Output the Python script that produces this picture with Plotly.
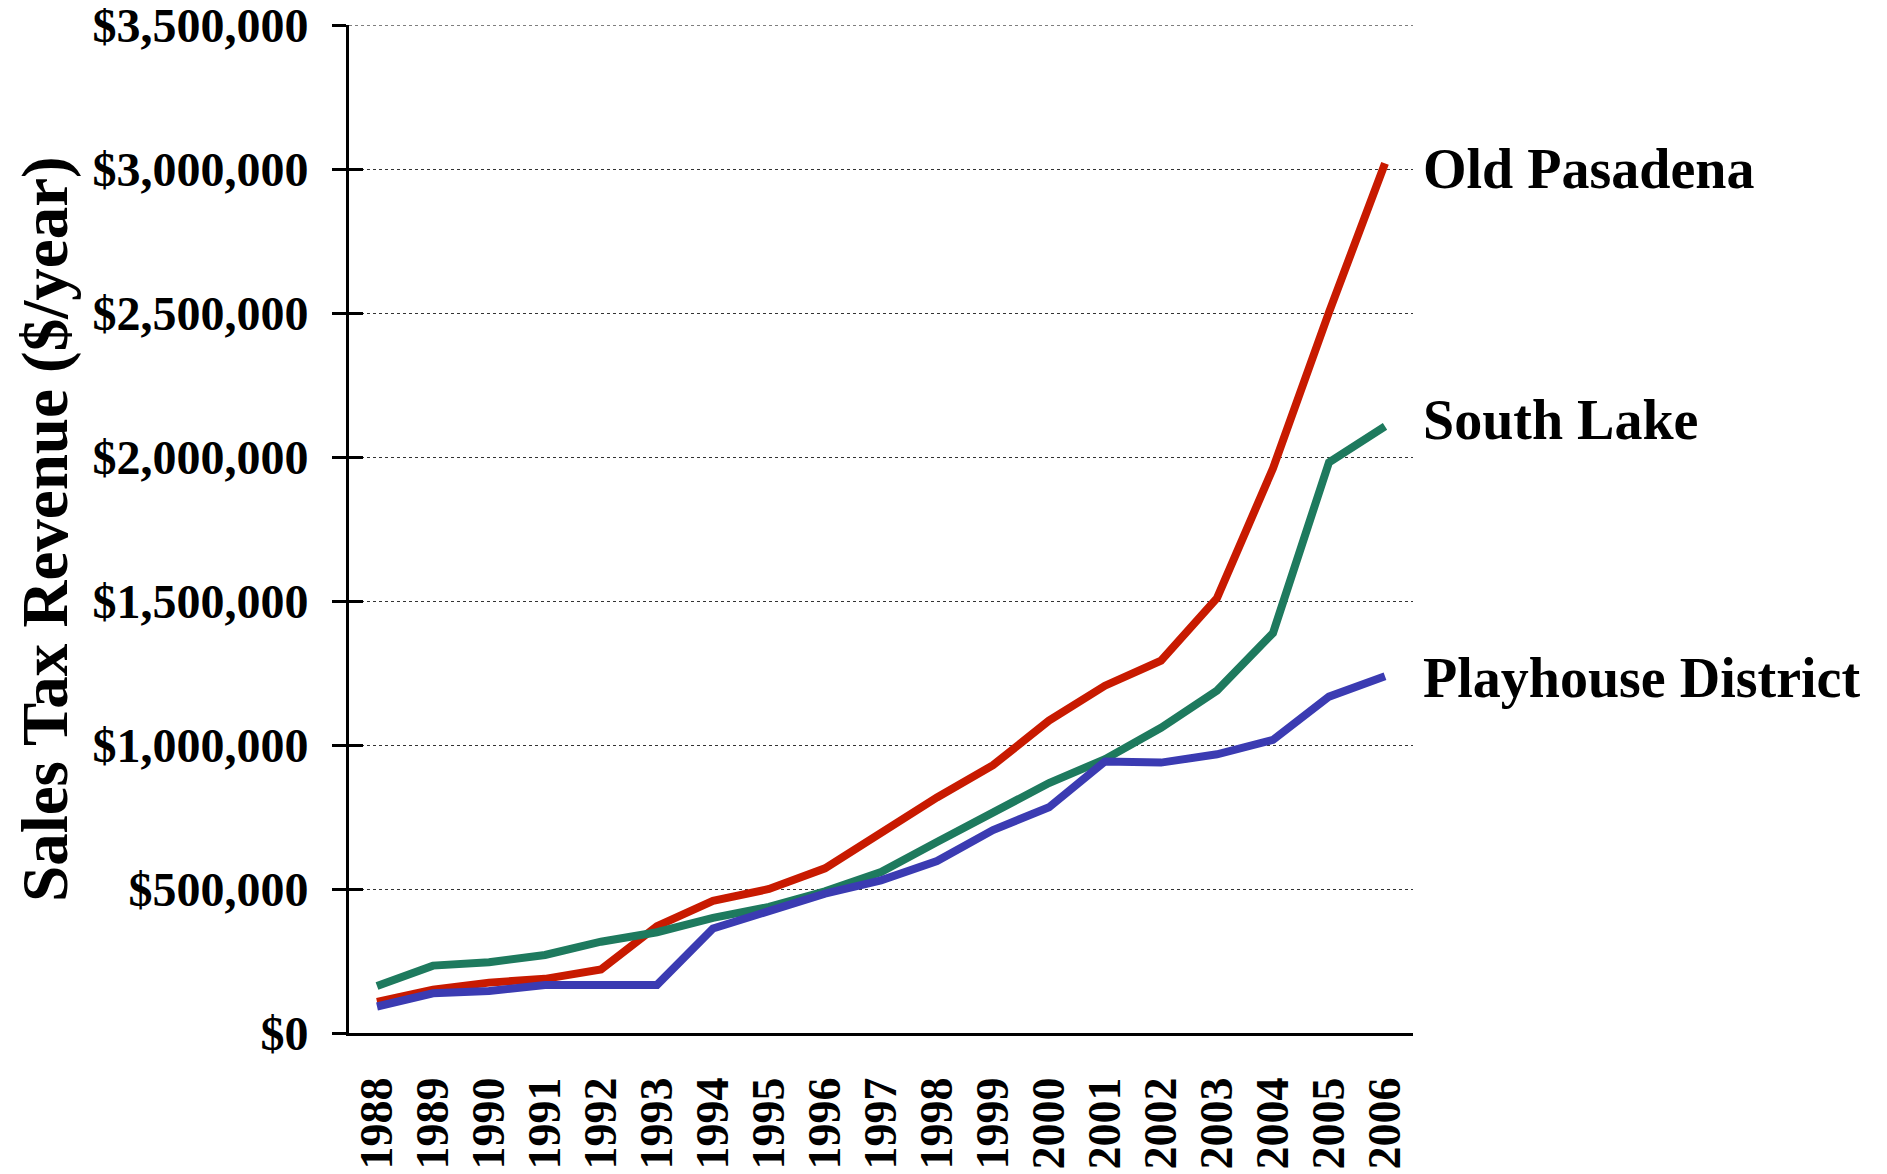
import plotly.graph_objects as go

years = [str(y) for y in range(1988, 2007)]

old_pasadena = [108000, 150000, 175000, 188000, 221000, 371000, 459000, 500000, 572000,
                693000, 818000, 930000, 1085000, 1206000, 1293000, 1510000, 1961000,
                2503000, 3020000]
south_lake = [163000, 234000, 246000, 271000, 317000, 350000, 400000, 438000, 492000,
              559000, 663000, 768000, 868000, 951000, 1060000, 1189000, 1389000,
              1982000, 2107000]
playhouse = [92000, 138000, 146000, 167000, 167000, 167000, 363000, 421000, 484000,
             530000, 597000, 705000, 784000, 943000, 939000, 968000, 1018000,
             1168000, 1239000]

series_names = ["Old Pasadena", "South Lake", "Playhouse District"]
series_colors = ["#C81A00", "#1E7A5E", "#3B3BB2"]
label_shift = [-6, 6, -2]

y_tickvals = [0, 500000, 1000000, 1500000, 2000000, 2500000, 3000000, 3500000]
y_ticktext = ["$0", "$500,000", "$1,000,000", "$1,500,000", "$2,000,000",
              "$2,500,000", "$3,000,000", "$3,500,000"]

y_title = "Sales Tax Revenue ($/year)"

FONT = "Liberation Serif"
L, R, T, B = 341, 482, 17, 149
PW = 1887 - L - R

fig = go.Figure()
for name, vals, col in zip(series_names, [old_pasadena, south_lake, playhouse], series_colors):
    fig.add_trace(go.Scatter(x=years, y=vals, mode="lines", name=name,
                             line=dict(color=col, width=8), showlegend=False,
                             hoverinfo="skip"))

# invisible trace for the overlaying axis that draws the inner half of the tick marks
fig.add_trace(go.Scatter(x=[years[0]], y=[0], yaxis="y2", mode="markers",
                         marker=dict(opacity=0), showlegend=False, hoverinfo="skip"))

for name, vals, ys in zip(series_names, [old_pasadena, south_lake, playhouse], label_shift):
    fig.add_annotation(x=(1413 - L) / PW, xref="paper", y=vals[-1], yref="y", yshift=ys,
                       text=name, showarrow=False, xanchor="left", yanchor="middle",
                       font=dict(family=FONT, size=56, color="black", weight="bold"))

fig.add_annotation(x=(37 - L) / PW, xref="paper", y=0.5, yref="paper",
                   text=y_title, textangle=-90, showarrow=False,
                   xanchor="center", yanchor="middle",
                   font=dict(family=FONT, size=65, color="black", weight="bold"))

# top gridline (plotly omits the grid line sitting on the plot edge)
fig.add_shape(type="line", xref="paper", x0=0, x1=1, yref="y",
              y0=y_tickvals[-1], y1=y_tickvals[-1],
              line=dict(color="#333333", width=1, dash="dot"))

YMAX = 3500500

fig.update_layout(
    width=1887, height=1174,
    margin=dict(l=L, r=R, t=T, b=B, autoexpand=False),
    paper_bgcolor="white", plot_bgcolor="white",
    xaxis=dict(type="category", range=[-0.5, 18.5], showline=True, linecolor="black",
               linewidth=3, ticks="", tickangle=-90, showgrid=False, zeroline=False,
               automargin=False,
               tickfont=dict(family=FONT, size=46, color="black", weight="bold"),
               ticklabelstandoff=23),
    yaxis=dict(range=[0, YMAX], tickvals=y_tickvals, ticktext=y_ticktext,
               showline=True, linecolor="black", linewidth=3, ticks="outside",
               ticklen=14, tickwidth=3, tickcolor="black", automargin=False,
               showgrid=True, gridcolor="#333333", gridwidth=1, griddash="dot",
               zeroline=False, ticklabelstandoff=14, ticklabeloverflow="allow",
               tickfont=dict(family=FONT, size=48, color="black", weight="bold")),
    yaxis2=dict(range=[0, YMAX], overlaying="y", side="left", anchor="x",
                tickvals=y_tickvals, ticks="inside", ticklen=14, tickwidth=3,
                tickcolor="black", showticklabels=False, showgrid=False,
                zeroline=False, showline=False, automargin=False),
)

fig.write_html("out.html")
